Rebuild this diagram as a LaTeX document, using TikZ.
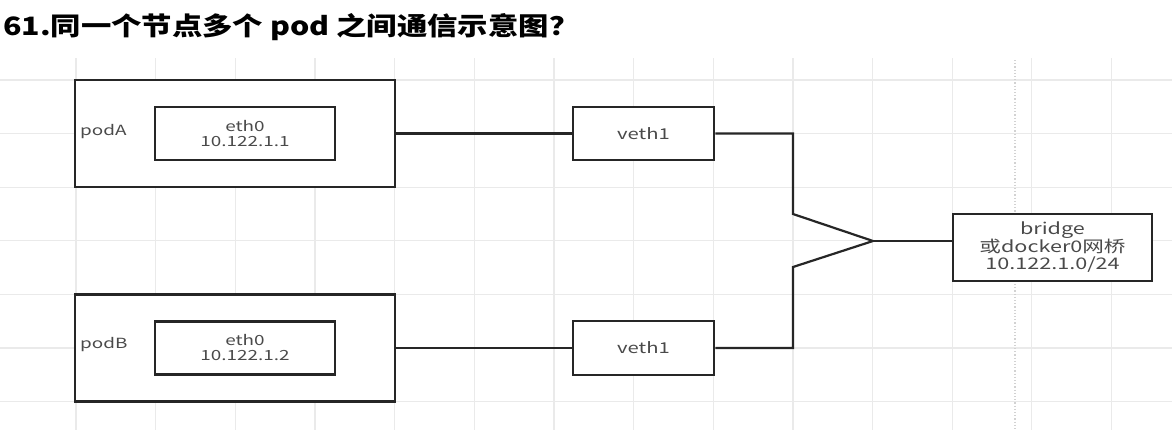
\documentclass[tikz,border=0pt]{standalone}
\usepackage{fontspec}
\setmainfont{Noto Sans CJK SC}[FakeStretch=1.35]
\newfontfamily\titlefont{Noto Sans CJK SC}[FakeStretch=1.2]
\definecolor{gridc}{HTML}{EAEAEA}
\definecolor{linec}{HTML}{262626}
\definecolor{txtc}{HTML}{4A4A4A}
\begin{document}
\begin{tikzpicture}[x=1pt,y=-1pt,
  box/.style={draw=linec, line width=2.5pt, fill=white, rectangle, inner sep=0pt,
    text=txtc, align=center, font=\fontsize{14}{15}\selectfont},
  lbl/.style={text=txtc, inner sep=0pt, anchor=west, font=\fontsize{14}{15}\selectfont},
  conn/.style={draw=linec, line width=2.2pt},
  gridline/.style={draw=gridc, line width=1.3pt}]
\useasboundingbox (0,0) rectangle (1172,440);
\fill[white] (0,0) rectangle (1172,440);
% grid
\foreach \k in {0,...,13} {\draw[gridline] ({76+79.65*\k},58) -- ({76+79.65*\k},430);}
\foreach \k in {0,...,6} {\draw[gridline] (0,{80+53.6*\k}) -- (1172,{80+53.6*\k});}
\draw[draw=gray!35, line width=1.2pt, dotted] (1015,60) -- (1015,430);
% title
\node[anchor=west, inner sep=0pt, font=\titlefont\bfseries\fontsize{25.3}{28}\selectfont] (title) at (3,27) {61.同一个节点多个 pod 之间通信示意图？};
% pods
\node[box, minimum width=320pt, minimum height=107pt] (podA) at (235,133.5) {};
\node[box, minimum width=180pt, minimum height=53pt] (ethA) at (245,133.5) {eth0\\10.122.1.1};
\node[lbl] (labA) at (80,132) {podA};
\node[box, minimum width=320pt, minimum height=107pt] (podB) at (235,348) {};
\node[box, minimum width=180pt, minimum height=53pt] (ethB) at (245,348) {eth0\\10.122.1.2};
\node[lbl] (labB) at (80,345) {podB};
% veths
\node[box, minimum width=141pt, minimum height=53pt, font=\fontsize{15}{16}\selectfont] (vethA) at (643.5,133.5) {veth1};
\node[box, minimum width=141pt, minimum height=54pt, font=\fontsize{15}{16}\selectfont] (vethB) at (643.5,348) {veth1};
% bridge
\node[box, minimum width=199pt, minimum height=67pt, font=\fontsize{16}{17.5}\selectfont] (bridge) at (1052.5,247.5) {bridge\\或docker0网桥\\10.122.1.0/24};
% connectors
\coordinate (jx) at (793,0);
\coordinate (tip) at (873,241);
\coordinate (upA) at (793,214);
\coordinate (upB) at (793,267);
\draw[conn] (podA.east) -- (vethA.west);
\draw[conn] (podB.east) -- (vethB.west);
\draw[conn] (vethA.east) -- (vethA.east -| jx) -- (upA) -- (tip);
\draw[conn] (vethB.east) -- (vethB.east -| jx) -- (upB) -- (tip);
\draw[conn] (tip) -- (tip -| bridge.west);
\end{tikzpicture}
\end{document}
